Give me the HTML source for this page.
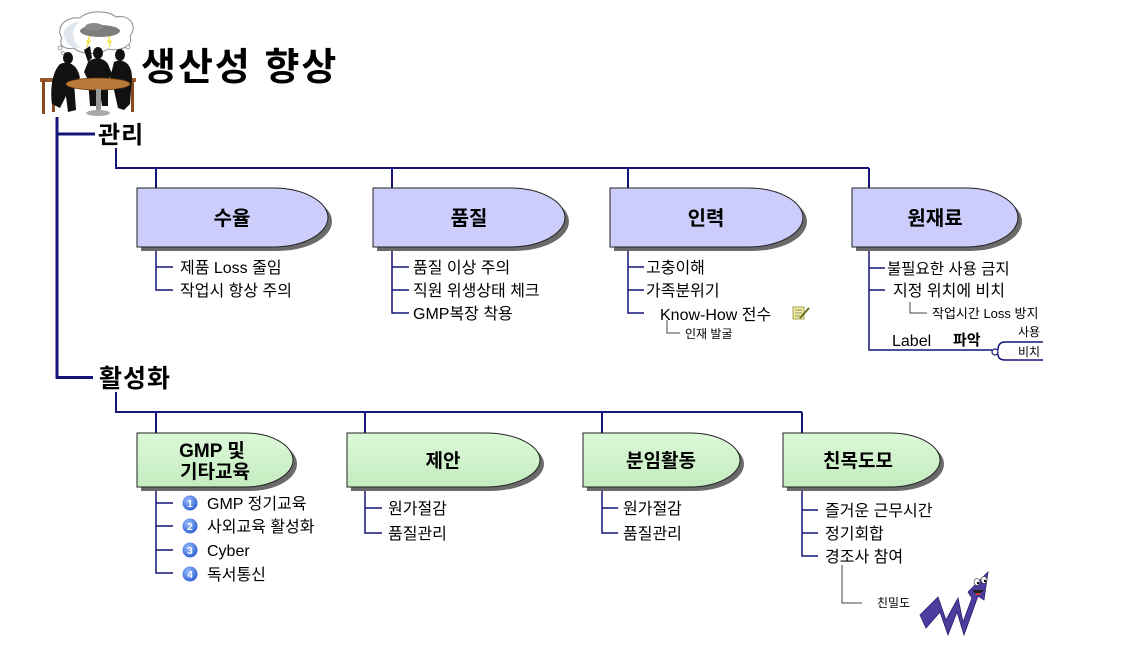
<!DOCTYPE html>
<html><head><meta charset="utf-8">
<style>
html,body{margin:0;padding:0;background:#fff;}
svg{display:block;}
text{font-family:"Liberation Sans","Noto Sans CJK KR",sans-serif;fill:#000;}
.b{font-weight:bold;}
</style></head>
<body>
<svg width="1130" height="650" viewBox="0 0 1130 650" xmlns="http://www.w3.org/2000/svg">
<defs>
<radialGradient id="nb" cx="0.4" cy="0.35" r="0.7">
<stop offset="0" stop-color="#9cc0ff"/><stop offset="1" stop-color="#2a5ad0"/>
</radialGradient>
<linearGradient id="gg" x1="0" y1="0" x2="0" y2="1">
<stop offset="0" stop-color="#dcf8d8"/><stop offset="1" stop-color="#c4ecc0"/>
</linearGradient>
</defs>

<!-- clip art -->
<g>
<path d="M62,38 C55,28 65,16 80,18 C88,10 108,10 116,17 C130,14 138,26 130,36 C134,46 120,52 108,49 C98,56 80,54 74,48 C64,50 58,45 62,38 Z" fill="#fff" stroke="#8a8a8a" stroke-width="1"/>
<path d="M64,36 C62,30 70,22 80,22 C70,30 72,40 80,48 C72,48 66,44 64,36Z" fill="#dfe6ee"/>
<circle cx="60" cy="48" r="2" fill="#fff" stroke="#888" stroke-width="0.8"/>
<circle cx="63" cy="53" r="1.5" fill="#fff" stroke="#888" stroke-width="0.8"/>
<circle cx="128" cy="47" r="2" fill="#fff" stroke="#888" stroke-width="0.8"/>
<ellipse cx="100" cy="31" rx="20" ry="6" fill="#7d7d7d"/>
<ellipse cx="94" cy="27" rx="9" ry="4" fill="#8a8a8a"/>
<polyline points="90,36 87,42 90,41 86,47" fill="none" stroke="#e8d800" stroke-width="1"/>
<polyline points="110,36 108,42 111,41 109,47" fill="none" stroke="#e8d800" stroke-width="1"/>
<!-- chairs -->
<rect x="40" y="78" width="14" height="4" fill="#9a5a2a"/>
<rect x="42" y="80" width="3" height="34" fill="#8a4a20"/>
<rect x="52" y="80" width="3" height="32" fill="#8a4a20"/>
<rect x="122" y="78" width="14" height="4" fill="#9a5a2a"/>
<rect x="131" y="80" width="3" height="32" fill="#8a4a20"/>
<!-- people -->
<ellipse cx="68" cy="58" rx="5" ry="6" fill="#111"/>
<path d="M60,64 C70,60 78,66 80,78 L74,82 L76,110 L68,112 L66,96 L60,108 L52,104 C50,90 52,72 60,64Z" fill="#111"/>
<ellipse cx="98" cy="53" rx="5" ry="6" fill="#111"/>
<path d="M88,62 C95,56 104,58 108,64 L112,74 L108,80 L108,106 L102,106 L99,86 L96,106 L90,106 L88,80 L84,72 Z M88,62 L84,50 L90,46 L92,58Z" fill="#111"/>
<ellipse cx="120" cy="55" rx="5" ry="6" fill="#111"/>
<path d="M114,62 C124,58 132,64 132,78 L130,104 L124,110 L118,108 L114,90 L110,78 Z" fill="#111"/>
<!-- table -->
<ellipse cx="98" cy="84" rx="32" ry="6" fill="#b87a3a" stroke="#6a3a10" stroke-width="0.8"/>
<rect x="96" y="89" width="5" height="22" fill="#999"/>
<ellipse cx="98" cy="113" rx="12" ry="3" fill="#aaa"/>
</g>

<text x="141" y="80" class="b" font-size="38" letter-spacing="2">생산성 향상</text>

<!-- main trunk -->
<g stroke="#14147a" fill="none">
<line x1="57" y1="117" x2="57" y2="379" stroke-width="3"/>
<line x1="57" y1="134" x2="95" y2="134" stroke-width="3"/>
<line x1="57" y1="377.5" x2="93" y2="377.5" stroke-width="3"/>
<polyline points="116,148 116,168 869,168" stroke-width="2"/>
<line x1="156" y1="168" x2="156" y2="189" stroke-width="2"/>
<line x1="392" y1="168" x2="392" y2="189" stroke-width="2"/>
<line x1="628" y1="168" x2="628" y2="189" stroke-width="2"/>
<line x1="869" y1="168" x2="869" y2="189" stroke-width="2"/>
<polyline points="116,392 116,412 802,412" stroke-width="2"/>
<line x1="156" y1="412" x2="156" y2="434" stroke-width="2"/>
<line x1="365" y1="412" x2="365" y2="434" stroke-width="2"/>
<line x1="602" y1="412" x2="602" y2="434" stroke-width="2"/>
<line x1="802" y1="412" x2="802" y2="434" stroke-width="2"/>
</g>
<text x="98" y="143" class="b" font-size="24" letter-spacing="1">관리</text>
<text x="99" y="387" class="b" font-size="25" letter-spacing="1">활성화</text>

<!-- lavender boxes -->
<g stroke="#222" stroke-width="1">
<path transform="translate(4,4)" d="M137,188 H273 A55,29.5 0 0 1 273,247 H137 Z" fill="#6a6a6a" stroke="none"/>
<path d="M137,188 H273 A55,29.5 0 0 1 273,247 H137 Z" fill="#cdcdfb"/>
<path transform="translate(4,4)" d="M373,188 H510 A55,29.5 0 0 1 510,247 H373 Z" fill="#6a6a6a" stroke="none"/>
<path d="M373,188 H510 A55,29.5 0 0 1 510,247 H373 Z" fill="#cdcdfb"/>
<path transform="translate(4,4)" d="M610,188 H748 A55,29.5 0 0 1 748,247 H610 Z" fill="#6a6a6a" stroke="none"/>
<path d="M610,188 H748 A55,29.5 0 0 1 748,247 H610 Z" fill="#cdcdfb"/>
<path transform="translate(4,4)" d="M852,188 H966 A52,29.5 0 0 1 966,247 H852 Z" fill="#6a6a6a" stroke="none"/>
<path d="M852,188 H966 A52,29.5 0 0 1 966,247 H852 Z" fill="#cdcdfb"/>
</g>
<g font-size="20" text-anchor="middle">
<text x="232" y="225" class="b">수율</text>
<text x="469" y="225" class="b">품질</text>
<text x="706" y="225" class="b">인력</text>
<text x="935" y="225" class="b">원재료</text>
</g>

<!-- green boxes -->
<g stroke="#222" stroke-width="1">
<path transform="translate(4,4)" d="M137,433 H245 A48,27 0 0 1 245,487 H137 Z" fill="#6a6a6a" stroke="none"/>
<path d="M137,433 H245 A48,27 0 0 1 245,487 H137 Z" fill="url(#gg)"/>
<path transform="translate(4,4)" d="M347,433 H485 A55,27 0 0 1 485,487 H347 Z" fill="#6a6a6a" stroke="none"/>
<path d="M347,433 H485 A55,27 0 0 1 485,487 H347 Z" fill="url(#gg)"/>
<path transform="translate(4,4)" d="M583,433 H690 A50,27 0 0 1 690,487 H583 Z" fill="#6a6a6a" stroke="none"/>
<path d="M583,433 H690 A50,27 0 0 1 690,487 H583 Z" fill="url(#gg)"/>
<path transform="translate(4,4)" d="M783,433 H890 A50,27 0 0 1 890,487 H783 Z" fill="#6a6a6a" stroke="none"/>
<path d="M783,433 H890 A50,27 0 0 1 890,487 H783 Z" fill="url(#gg)"/>
</g>
<g font-size="19" text-anchor="middle">
<text x="212" y="457" class="b">GMP 및</text>
<text x="215" y="478" class="b">기타교육</text>
<text x="443" y="467" class="b">제안</text>
<text x="661" y="467" class="b">분임활동</text>
<text x="858" y="467" class="b">친목도모</text>
</g>

<!-- sub branches -->
<g stroke="#14147a" stroke-width="1.5" fill="none">
<polyline points="156,251 156,290 173,290"/><line x1="156" y1="267" x2="173" y2="267"/>
<polyline points="392,251 392,313 409,313"/><line x1="392" y1="267" x2="409" y2="267"/><line x1="392" y1="290" x2="409" y2="290"/>
<polyline points="628,251 628,313 644,313"/><line x1="628" y1="267" x2="644" y2="267"/><line x1="628" y1="290" x2="644" y2="290"/>
<polyline points="869,251 869,350 992,350"/><line x1="869" y1="268" x2="885" y2="268"/><line x1="869" y1="290" x2="885" y2="290"/>
<path d="M998,350 Q998,342 1005,342 H1043"/>
<path d="M998,354 Q998,360 1005,360 H1043"/>
<polyline points="156,491 156,573 173,573"/><line x1="156" y1="503" x2="173" y2="503"/><line x1="156" y1="526" x2="173" y2="526"/><line x1="156" y1="550" x2="173" y2="550"/>
<polyline points="365,491 365,533 382,533"/><line x1="365" y1="508" x2="382" y2="508"/>
<polyline points="602,491 602,533 618,533"/><line x1="602" y1="508" x2="618" y2="508"/>
<polyline points="802,491 802,556 818,556"/><line x1="802" y1="510" x2="818" y2="510"/><line x1="802" y1="533" x2="818" y2="533"/>
</g>
<circle cx="995" cy="352" r="3" fill="#fff" stroke="#14147a" stroke-width="1.2"/>
<g stroke="#444" stroke-width="1" fill="none">
<polyline points="667,320 667,333 680,333"/>
<polyline points="910,302 910,313 927,313"/>
<polyline points="842,565 842,603 862,603"/>
</g>

<g font-size="16">
<text x="180" y="273">제품 Loss 줄임</text>
<text x="180" y="296">작업시 항상 주의</text>
<text x="413" y="273">품질 이상 주의</text>
<text x="413" y="296">직원 위생상태 체크</text>
<text x="413" y="319">GMP복장 착용</text>
<text x="646" y="273">고충이해</text>
<text x="646" y="296">가족분위기</text>
<text x="660" y="320">Know-How 전수</text>
<text x="887" y="274" font-size="15.5">불필요한 사용 금지</text>
<text x="893" y="296">지정 위치에 비치</text>
<text x="892" y="346">Label</text>
<text x="953" y="345" class="b" font-size="15">파악</text>
<text x="388" y="514">원가절감</text>
<text x="388" y="539">품질관리</text>
<text x="623" y="514">원가절감</text>
<text x="623" y="539">품질관리</text>
<text x="825" y="516">즐거운 근무시간</text>
<text x="825" y="539">정기회합</text>
<text x="825" y="562">경조사 참여</text>
<text x="207" y="509">GMP 정기교육</text>
<text x="207" y="532">사외교육 활성화</text>
<text x="207" y="556">Cyber</text>
<text x="207" y="580">독서통신</text>
</g>
<g font-size="12">
<text x="685" y="338">인재 발굴</text>
<text x="932" y="318" font-size="13">작업시간 Loss 방지</text>
<text x="1018" y="336">사용</text>
<text x="1018" y="356">비치</text>
<text x="877" y="607">친밀도</text>
</g>

<!-- numbered circles -->
<g font-size="10" font-weight="bold" text-anchor="middle">
<circle cx="190" cy="503" r="7.5" fill="url(#nb)"/><text x="190" y="507" style="fill:#fff">1</text>
<circle cx="190" cy="526" r="7.5" fill="url(#nb)"/><text x="190" y="530" style="fill:#fff">2</text>
<circle cx="190" cy="550" r="7.5" fill="url(#nb)"/><text x="190" y="554" style="fill:#fff">3</text>
<circle cx="190" cy="574" r="7.5" fill="url(#nb)"/><text x="190" y="578" style="fill:#fff">4</text>
</g>

<!-- note icon -->
<g>
<rect x="793" y="307" width="11" height="12" fill="#f4ef9a" stroke="#8a8a40" stroke-width="0.8"/>
<line x1="795" y1="310" x2="802" y2="310" stroke="#777" stroke-width="0.8"/>
<line x1="795" y1="313" x2="802" y2="313" stroke="#777" stroke-width="0.8"/>
<line x1="795" y1="316" x2="800" y2="316" stroke="#777" stroke-width="0.8"/>
<line x1="800" y1="318" x2="809" y2="308" stroke="#6a6a20" stroke-width="2"/>
</g>

<!-- mascot -->
<g>
<polygon points="920,615 938,597 946,620 958,598 963,622 972,598 968,592 988,572 984,600 978,596 964,635 957,612 948,635 940,612 926,628" fill="#4b3c9e" stroke="#2a2070" stroke-width="0.8"/>
<ellipse cx="977" cy="582" rx="3" ry="3.5" fill="#fff" stroke="#222" stroke-width="0.6"/>
<ellipse cx="984" cy="580" rx="3" ry="3.5" fill="#fff" stroke="#222" stroke-width="0.6"/>
<circle cx="978" cy="583" r="1.2" fill="#000"/><circle cx="985" cy="581" r="1.2" fill="#000"/>
<path d="M972,590 Q978,598 984,590 Z" fill="#222"/>
<path d="M975,593 Q978,597 981,593 Z" fill="#e04020"/>
</g>
</svg>
</body></html>
